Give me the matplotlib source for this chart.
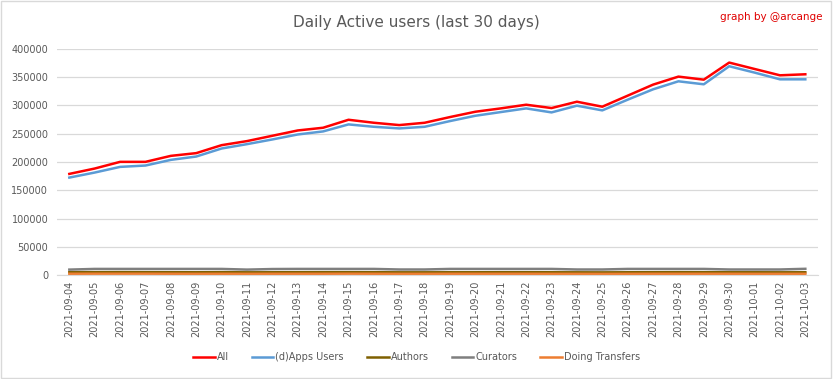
import numpy as np
import matplotlib.pyplot as plt
from matplotlib.patches import Rectangle

dates = ['2021-09-04', '2021-09-05', '2021-09-06', '2021-09-07', '2021-09-08',
         '2021-09-09', '2021-09-10', '2021-09-11', '2021-09-12', '2021-09-13',
         '2021-09-14', '2021-09-15', '2021-09-16', '2021-09-17', '2021-09-18',
         '2021-09-19', '2021-09-20', '2021-09-21', '2021-09-22', '2021-09-23',
         '2021-09-24', '2021-09-25', '2021-09-26', '2021-09-27', '2021-09-28',
         '2021-09-29', '2021-09-30', '2021-10-01', '2021-10-02', '2021-10-03']

all_users = [179000, 188500, 200300, 200300, 210900, 215700, 229800, 237000, 246400, 255800,
             260600, 274700, 269400, 265300, 269400, 279500, 288900, 294800, 301300, 295400,
             306600, 297800, 317300, 336800, 351000, 345600, 375800, 364500, 353300, 355100]
apps_users = [172500, 181400, 191400, 193800, 203800, 209700, 223900, 231600, 239900, 248700,
              254100, 266500, 262300, 259400, 262300, 272400, 281800, 288300, 294800, 287700,
              299600, 291300, 310200, 328500, 342700, 337400, 369300, 358100, 346200, 346200]
authors = [5200, 5300, 5400, 5300, 5200, 5100, 5300, 5000, 5100, 5200,
           5300, 5300, 5200, 5000, 5000, 5100, 5100, 5200, 5200, 5100,
           5000, 4900, 5100, 5200, 5300, 5200, 5100, 5100, 5000, 5100]
curators = [9800, 11000, 11000, 11000, 11000, 11000, 11000, 9800, 10800, 11000,
            11000, 11000, 11000, 10000, 10000, 11000, 11000, 11000, 11000, 11000,
            10000, 10000, 11000, 11000, 11000, 11000, 10000, 10000, 10000, 11200]
transfers = [2500, 2600, 2600, 2600, 2500, 2400, 2500, 2400, 2500, 2500,
             2500, 2600, 2500, 2400, 2400, 2500, 2500, 2500, 2500, 2400,
             2400, 2300, 2400, 2500, 2500, 2500, 2500, 2400, 2400, 2400]

series = [('All', all_users, '#FF0000'),
          ('(d)Apps Users', apps_users, '#5B9BD5'),
          ('Authors', authors, '#7F6000'),
          ('Curators', curators, '#7F7F7F'),
          ('Doing Transfers', transfers, '#ED7D31')]

plt.rcParams['font.family'] = ['DejaVu Sans']
txt = '#595959'

fig = plt.figure(figsize=(8.33, 3.79), dpi=100)
ax = fig.add_axes([0.068, 0.274, 0.914, 0.597])

x = np.arange(len(dates))
for name, vals, col in series:
    ax.plot(x, vals, color=col, lw=1.8, label=name, solid_joinstyle='round')

ax.set_xlim(-0.5, len(dates) - 0.5)
ax.set_ylim(0, 400000)
ax.set_yticks(np.arange(0, 400001, 50000))
ax.set_yticklabels([str(v) for v in range(0, 400001, 50000)])
ax.set_xticks(x)
ax.set_xticklabels(dates, rotation=90)
ax.tick_params(axis='both', length=0, labelsize=7, colors=txt)
ax.tick_params(axis='x', pad=4)
ax.tick_params(axis='y', pad=6)
ax.grid(axis='y', color='#D9D9D9', lw=0.9)
ax.set_axisbelow(True)
for s in ['top', 'right', 'left']:
    ax.spines[s].set_visible(False)
ax.spines['bottom'].set_color('#D9D9D9')

fig.text(0.5, 0.94, 'Daily Active users (last 30 days)', ha='center', va='center',
         fontsize=11, color=txt)
fig.text(0.987, 0.955, 'graph by @arcange', ha='right', va='center',
         fontsize=7.5, color='#E00000')

fig.legend(loc='center', bbox_to_anchor=(0.5, 0.058), ncol=5, frameon=False,
           fontsize=7, labelcolor=txt, handlelength=2.2, handletextpad=0.2,
           columnspacing=2.4)

fig.patches.append(Rectangle((0.001, 0.002), 0.997, 0.995, transform=fig.transFigure,
                             fill=False, edgecolor='#D9D9D9', lw=1))

fig.savefig('out.png', dpi=100, facecolor='white')
